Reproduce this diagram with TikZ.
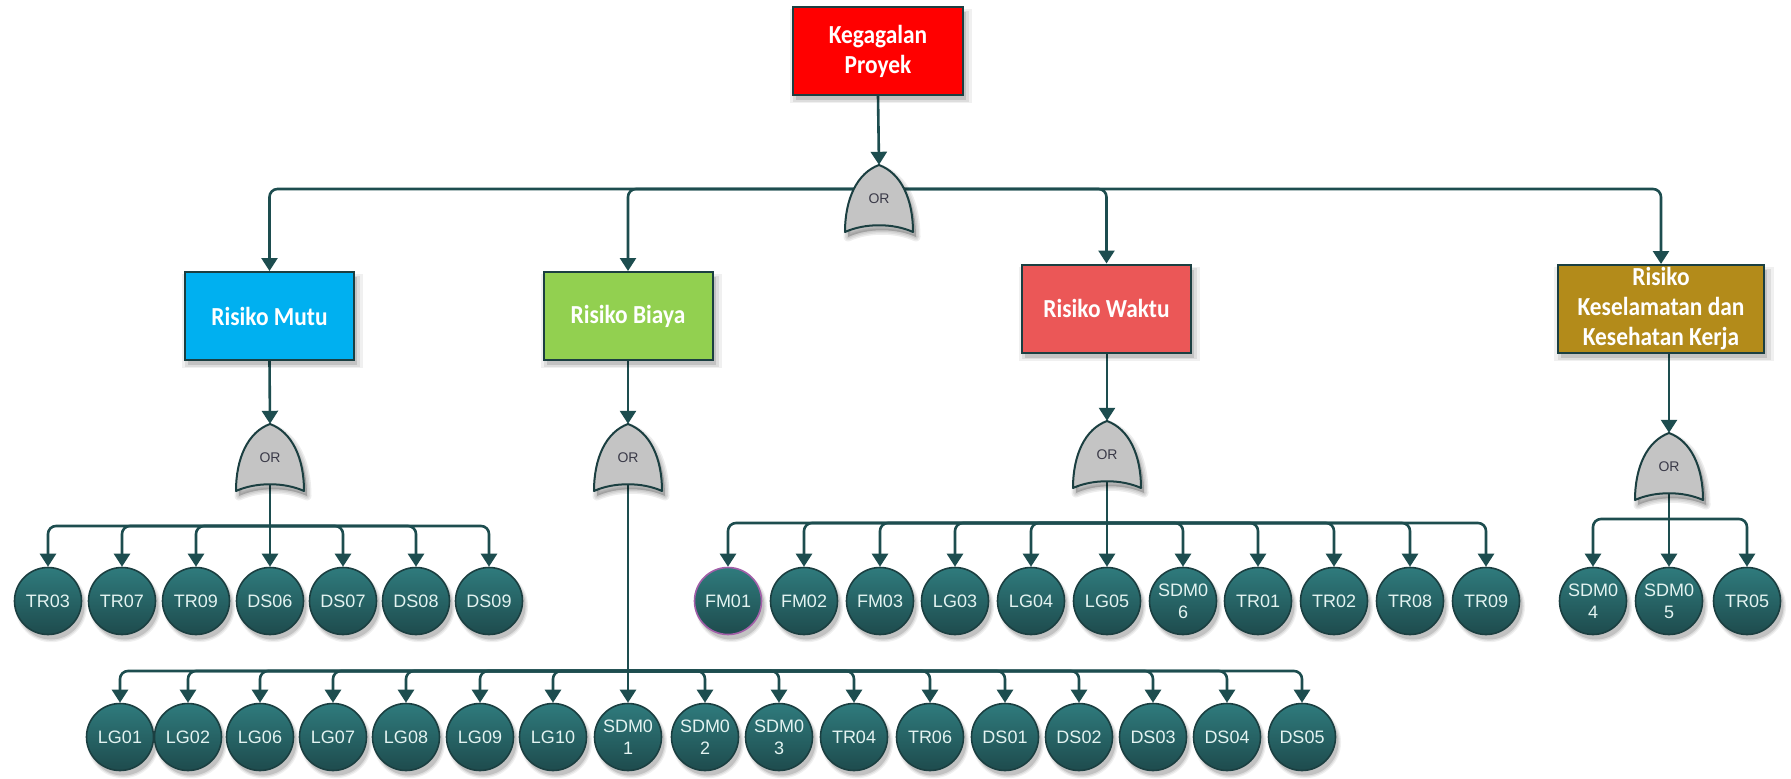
\documentclass[tikz,border=0pt]{standalone}
\usepackage{fontspec}
\setmainfont{Liberation Sans}
\newfontfamily\boxfont{Carlito}[FakeStretch=0.9]
\usetikzlibrary{arrows.meta,shadows}
\pgfdeclarelayer{background}
\pgfdeclarelayer{paper}
\pgfsetlayers{paper,background,main}

\definecolor{linec}{HTML}{1D4D4F}
\definecolor{edgec}{HTML}{1B3F41}
\definecolor{topred}{HTML}{FF0000}
\definecolor{mutuc}{HTML}{00B0F0}
\definecolor{biayac}{HTML}{92D050}
\definecolor{waktuc}{HTML}{EB5757}
\definecolor{ktigac}{HTML}{B38B1A}
\definecolor{ctop}{HTML}{2F7B7D}
\definecolor{cbot}{HTML}{1E4B4D}
\definecolor{ctext}{HTML}{E3F3F1}
\definecolor{gatec}{HTML}{C4C4C4}
\definecolor{gtext}{HTML}{3A3A48}
\definecolor{fmedge}{HTML}{A25FA8}

\tikzset{
  softshadow/.style={
    general shadow={fill=black, opacity=0.06, shadow xshift=3pt, shadow yshift=-5pt, shadow scale=1.07},
    general shadow={fill=black, opacity=0.08, shadow xshift=3pt, shadow yshift=-5pt, shadow scale=1.035},
    general shadow={fill=black, opacity=0.12, shadow xshift=3pt, shadow yshift=-5pt, shadow scale=1.0}},
  riskbox/.style={rectangle, draw=edgec, line width=2pt, minimum width=169pt,
    minimum height=88pt, inner sep=0pt, align=center, text=white,
    font=\boxfont\bfseries\fontsize{26}{30}\selectfont, softshadow},
  event/.style={circle, draw=edgec, line width=1.6pt, minimum size=67pt, inner sep=0pt,
    top color=ctop, bottom color=cbot, text=ctext, align=center,
    font=\fontsize{18}{22}\selectfont, softshadow},
  gatetext/.style={minimum width=68pt, minimum height=68pt, inner sep=0pt,
    text=gtext, font=\fontsize{14}{16}\selectfont},
  conn/.style={draw=linec, line width=2.6pt, rounded corners=8pt,
    -{Triangle[width=16pt,length=13pt]}},
  trunk/.style={draw=linec, line width=2.6pt},
}

% OR gate outline, centred on the origin
\newcommand\gateoutline{%
  (-34,33) .. controls (-34,0) and (-22,-26) .. (0,-34)
  .. controls (22,-26) and (34,0) .. (34,33)
  .. controls (14,24) and (-14,24) .. cycle}

% OR gate: name, centre x, centre y
\newcommand\orgate[3]{%
  \begin{scope}[shift={(#2,#3)}]
    \begin{scope}[shift={(3,5)}]
      \foreach \w in {9,6,3}{%
        \filldraw[black, opacity=0.07, line width=\w pt, line join=round] \gateoutline;}
    \end{scope}
    \filldraw[fill=gatec, draw=edgec, line width=2pt, line join=round] \gateoutline;
  \end{scope}
  \node[gatetext] (#1) at (#2,#3) {OR};
}

\begin{document}
\begin{tikzpicture}[x=1pt,y=-1pt]
\useasboundingbox (0,0) rectangle (1791,779);
\begin{pgfonlayer}{paper}
  \fill[white] (0,0) rectangle (1791,779);
\end{pgfonlayer}

% gates
\orgate{g0}{879}{199}
\orgate{g1}{270}{458}
\orgate{g2}{628}{458}
\orgate{g3}{1107}{455}
\orgate{g4}{1669}{467}

% top event and risk categories
\node[riskbox, fill=topred, minimum width=170pt] (top) at (878,51) {Kegagalan\\Proyek};
\node[riskbox, fill=mutuc] (mutu) at (269.5,316) {Risiko Mutu};
\node[riskbox, fill=biayac] (biaya) at (628,316) {Risiko Biaya};
\node[riskbox, fill=waktuc] (waktu) at (1106.5,308.5) {Risiko Waktu};
\node[riskbox, fill=ktigac, minimum width=206pt] (k3) at (1661,309)
  {Risiko\\Keselamatan dan\\Kesehatan Kerja};

% basic events: quality
\foreach \x/\n in {48/TR03,122/TR07,196/TR09,270/DS06,343/DS07,416/DS08,489/DS09}
  {\node[event] (\n) at (\x,601) {\n};}

% basic events: time
\node[event, draw=fmedge] (FM01) at (728,601) {FM01};
\foreach \x/\n/\t in {804/FM02/FM02,880/FM03/FM03,955/LG03/LG03,1031/LG04/LG04,
    1107/LG05/LG05,1183/SDM06/{SDM0\\6},1258/TR01/TR01,1334/TR02/TR02,
    1410/TR08/TR08,1486/TRnine/TR09}
  {\node[event] (\n) at (\x,601) {\t};}

% basic events: safety and health
\node[event] (SDM04) at (1593,601) {SDM0\\4};
\node[event] (SDM05) at (1669,601) {SDM0\\5};
\node[event] (TR05) at (1747,601) {TR05};

% basic events: cost
\foreach \x/\n/\t in {120/LG01/LG01,188/LG02/LG02,260/LG06/LG06,333/LG07/LG07,
    406/LG08/LG08,480/LG09/LG09,553/LG10/LG10,628/SDM01/{SDM0\\1},
    705/SDM02/{SDM0\\2},779/SDM03/{SDM0\\3},854/TR04/TR04,930/TR06/TR06,
    1005/DS01/DS01,1079/DS02/DS02,1153/DS03/DS03,1227/DS04/DS04,1302/DS05/DS05}
  {\node[event] (\n) at (\x,737) {\t};}

% junction points
\coordinate (t0) at (879,189);
\coordinate (b1) at (270,526);
\coordinate (b2) at (628,671);
\coordinate (b3) at (1107,523);
\coordinate (b4) at (1669,519);

\begin{pgfonlayer}{background}
  \draw[conn] (top.south) -- (g0.north);
  \foreach \n in {mutu,biaya,waktu,k3}{\draw[conn] (t0) -| (\n.north);}

  \draw[conn] (mutu.south) -- (g1.north);
  \draw[conn] (biaya.south) -- (g2.north);
  \draw[conn] (waktu.south -| g3.north) -- (g3.north);
  \draw[conn] (k3.south -| g4.north) -- (g4.north);

  \draw[trunk] (g1.center) -- (b1);
  \foreach \n in {TR03,TR07,TR09,DS07,DS08,DS09}{\draw[conn] (b1) -| (\n.north);}
  \draw[conn] (b1) -- (DS06.north);

  \draw[trunk] (g2.center) -- (b2);
  \foreach \n in {LG01,LG02,LG06,LG07,LG08,LG09,LG10,SDM02,SDM03,TR04,TR06,
      DS01,DS02,DS03,DS04,DS05}{\draw[conn] (b2) -| (\n.north);}
  \draw[conn] (b2) -- (SDM01.north);

  \draw[trunk] (g3.center) -- (b3);
  \foreach \n in {FM01,FM02,FM03,LG03,LG04,SDM06,TR01,TR02,TR08,TRnine}
    {\draw[conn] (b3) -| (\n.north);}
  \draw[conn] (b3) -- (LG05.north);

  \draw[trunk] (g4.center) -- (b4);
  \draw[conn] (b4) -| (SDM04.north);
  \draw[conn] (b4) -| (TR05.north);
  \draw[conn] (b4) -- (SDM05.north);
\end{pgfonlayer}
\end{tikzpicture}
\end{document}
